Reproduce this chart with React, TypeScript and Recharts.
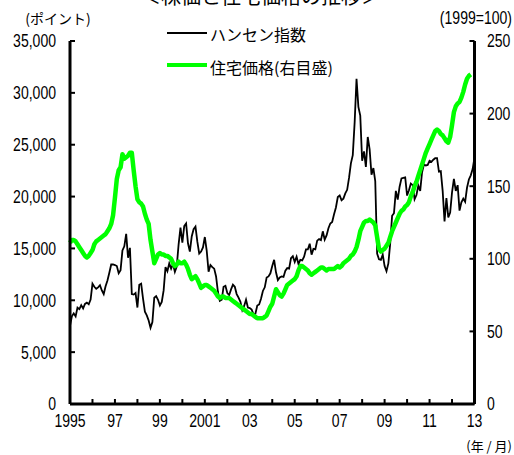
import React from "react";
import { LineChart, Line, XAxis, YAxis } from "recharts";

// Hang Seng index, monthly, Jan 1995 - Jan 2013 (points)
const hsi = [
  7540, 8450, 8740, 8450, 9300, 9150, 9530, 9220, 9650, 9770, 9620, 10070, // 1995
  11600, 11300, 11100, 11250, 11450, 10950, 10600, 11350, 11900, 12650, 13450, 13450, // 1996
  13400, 13300, 12600, 12900, 14800, 15200, 16400, 14100, 15050, 10600, 10550, 10700, // 1997
  9300, 11500, 11600, 10150, 8900, 8550, 8050, 7350, 7900, 10250, 10400, 10050, // 1998
  9500, 9850, 10950, 13200, 12800, 13550, 13050, 13500, 12750, 13250, 15400, 17000, // 1999
  15550, 17150, 17400, 15500, 14700, 16150, 16850, 17100, 15650, 14500, 14700, 15100, // 2000
  16100, 14800, 12750, 13400, 13200, 13050, 12300, 10800, 9950, 10050, 11300, 11400, // 2001
  10700, 10500, 11050, 11500, 11300, 10600, 10250, 9850, 9050, 9450, 10050, 9300, // 2002
  9250, 9100, 8650, 8700, 9500, 9600, 10150, 10900, 11250, 12200, 12300, 12600, // 2003
  13300, 13900, 12700, 11950, 12200, 12300, 12250, 12850, 13100, 13050, 14050, 14250, // 2004
  13700, 14200, 13500, 13900, 13850, 14200, 14900, 14900, 15450, 14400, 14950, 14900, // 2005
  15750, 15900, 15800, 16650, 15850, 16250, 16950, 17400, 17550, 18300, 18950, 19950, // 2006
  20100, 19650, 19800, 20300, 20650, 21800, 23200, 24000, 27150, 31350, 28650, 27800, // 2007
  23450, 24350, 22850, 25750, 24550, 22100, 22750, 21500, 14500, 13950, 13900, 14400, // 2008
  13300, 12800, 13550, 15500, 18150, 18400, 20550, 19700, 20950, 21750, 21800, 21850, // 2009
  20100, 20600, 21250, 21100, 19750, 20150, 21050, 20550, 22350, 23100, 23000, 23050, // 2010
  23450, 23350, 23550, 23700, 23700, 22400, 22450, 20550, 17600, 19850, 18000, 18450, // 2011
  20400, 21700, 20550, 21100, 18650, 19450, 19800, 19500, 20850, 21650, 22050, 22650, // 2012
  23750, // 2013
];

// housing price index, monthly, Jan 1995 - Nov 2012 (1999=100)
const housing = [
  111, 113, 113, 112, 110, 108, 106, 104, 102, 101, 102, 104, // 1995
  106, 110, 112, 113, 114, 115, 116, 117, 119, 121, 124, 130, // 1996
  142, 155, 161, 163, 172, 169, 170, 171, 173, 173, 161, 150, // 1997
  141, 139, 138, 136, 131, 127, 124, 113, 105, 97, 100, 103, // 1998
  104, 103, 103, 102, 102, 101, 100, 97, 95, 96, 98, 97, // 1999
  97, 98, 96, 93, 89, 86, 87, 88, 86, 83, 80, 81, // 2000
  82, 82, 81, 80, 79, 78, 76, 74, 73, 74, 74, 73, // 2001
  73, 73, 72, 71, 70, 69, 68, 67, 66, 65, 64, 63, // 2002
  62, 62, 61, 60, 59, 59, 59, 59, 60, 61, 64, 67, // 2003
  69, 74, 79, 77, 75, 74, 76, 79, 82, 83, 84, 85, // 2004
  86, 88, 92, 95, 95, 94, 93, 92, 90, 89, 90, 91, // 2005
  92, 93, 94, 94, 93, 92, 93, 93, 93, 93, 94, 95, // 2006
  94, 95, 97, 98, 99, 100, 102, 103, 105, 108, 113, 119, // 2007
  122, 125, 126, 126, 127, 126, 125, 123, 115, 107, 105, 106, // 2008
  107, 109, 111, 115, 119, 122, 125, 128, 131, 133, 134, 136, // 2009
  137, 139, 143, 146, 150, 153, 157, 161, 165, 169, 173, 176, // 2010
  179, 182, 185, 188, 189, 188, 186, 185, 183, 181, 180, 184, // 2011
  192, 201, 205, 207, 208, 211, 215, 220, 224, 226, 227, // 2012
];

const yearTicks = [1995, 1996, 1997, 1998, 1999, 2000, 2001, 2002, 2003, 2004, 2005, 2006, 2007, 2008, 2009, 2010, 2011, 2012, 2013];
const labeledYears = [1995, 1997, 1999, 2001, 2003, 2005, 2007, 2009, 2011, 2013];
const leftTicks = [0, 5000, 10000, 15000, 20000, 25000, 30000, 35000];
const rightTicks = [0, 50, 100, 150, 200, 250];

const data = hsi.map((v, i) => ({
  t: 1995 + i / 12,
  hsi: v,
  housing: i < housing.length ? housing[i] : null,
}));

const NUM_FONT = "'Liberation Sans', Arial, sans-serif";
const JP_FONT = "'Noto Sans CJK JP', sans-serif";

const Narrow = ({ x, y, anchor, dy, children }: any) => (
  <text
    transform={`translate(${x},${y}) scale(0.78,1)`}
    textAnchor={anchor}
    dy={dy}
    fontSize={18}
    fontFamily={NUM_FONT}
    fill="#000"
  >
    {children}
  </text>
);

const yearLabel = (v: number) => (v === 1995 || v === 2001 ? String(v) : String(v % 100).padStart(2, "0"));

const BottomTick = (props: any) => {
  const { x, y, payload } = props;
  const v = Math.round(payload.value);
  return (
    <g>
      <line x1={x} x2={x} y1={y - 10} y2={y - 15} stroke="#000" strokeWidth={2} />
      {labeledYears.includes(v) && (
        <Narrow x={x} y={y} anchor="middle" dy="0.72em">
          {yearLabel(v)}
        </Narrow>
      )}
    </g>
  );
};

const LeftTick = (props: any) => {
  const { x, y, payload } = props;
  return (
    <g>
      <line x1={x + 14} x2={x + 19} y1={y} y2={y} stroke="#000" strokeWidth={2} />
      <Narrow x={x} y={y} anchor="end" dy="0.36em">
        {payload.value.toLocaleString("en-US")}
      </Narrow>
    </g>
  );
};

const RightTick = (props: any) => {
  const { x, y, payload } = props;
  return (
    <g>
      <line x1={x - 12.5} x2={x - 17.5} y1={y} y2={y} stroke="#000" strokeWidth={2} />
      <Narrow x={x} y={y} anchor="start" dy="0.36em">
        {payload.value}
      </Narrow>
    </g>
  );
};

export default function App() {
  return (
    <div style={{ position: "absolute", left: 0, top: 0, width: 514, height: 455, background: "#fff" }}>
      <LineChart width={514} height={455} data={data} margin={{ top: 41, right: 9.5, bottom: 21, left: 10 }}>
        <XAxis
          type="number"
          dataKey="t"
          domain={[1995, 2013]}
          ticks={yearTicks}
          interval={0}
          height={30}
          tickSize={0}
          tickMargin={10}
          tickLine={false}
          axisLine={{ stroke: "#000", strokeWidth: 3 }}
          tick={BottomTick}
        />
        <YAxis
          yAxisId="left"
          domain={[0, 35000]}
          ticks={leftTicks}
          interval={0}
          width={60}
          tickSize={0}
          tickMargin={14}
          tickLine={false}
          axisLine={{ stroke: "#000", strokeWidth: 3 }}
          tick={LeftTick}
        />
        <YAxis
          yAxisId="right"
          orientation="right"
          domain={[0, 250]}
          ticks={rightTicks}
          interval={0}
          width={30}
          tickSize={0}
          tickMargin={12.5}
          tickLine={false}
          axisLine={{ stroke: "#000", strokeWidth: 3 }}
          tick={RightTick}
        />
        <Line
          yAxisId="left"
          type="linear"
          dataKey="hsi"
          stroke="#000"
          strokeWidth={1.8}
          dot={false}
          isAnimationActive={false}
        />
        <Line
          yAxisId="right"
          type="linear"
          dataKey="housing"
          stroke="#00ff00"
          strokeWidth={4.5}
          strokeLinejoin="round"
          dot={false}
          isAnimationActive={false}
        />
      </LineChart>
      <svg width={514} height={455} style={{ position: "absolute", left: 0, top: 0, pointerEvents: "none" }}>
        <text x={261} y={4} textAnchor="middle" fontSize={20} fontFamily={JP_FONT} fill="#000">
          ＜株価と住宅価格の推移＞
        </text>
        <text x={58} y={24} textAnchor="middle" fontSize={14} fontFamily={JP_FONT} fill="#000">
          (ポイント)
        </text>
        <Narrow x={512} y={24} anchor="end">
          (1999=100)
        </Narrow>
        <line x1={167} x2={207} y1={33} y2={33} stroke="#000" strokeWidth={2} />
        <text x={210} y={41} fontSize={16} fontFamily={JP_FONT} fill="#000">
          ハンセン指数
        </text>
        <line x1={167} x2={207} y1={65} y2={65} stroke="#00ff00" strokeWidth={4} />
        <text x={210} y={73.5} fontSize={16} fontFamily={JP_FONT} fill="#000">
          住宅価格(右目盛)
        </text>
        <text x={512} y={451} textAnchor="end" fontSize={13} fontFamily={JP_FONT} fill="#000">
          (年 / 月)
        </text>
      </svg>
    </div>
  );
}
